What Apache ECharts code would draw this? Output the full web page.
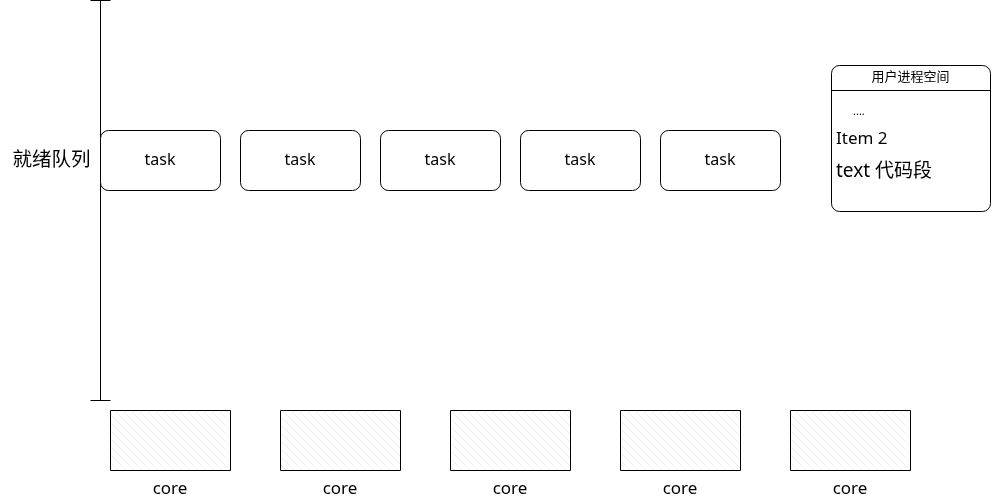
<!DOCTYPE html>
<html>
<head>
<meta charset="utf-8">
<script src="https://cdn.jsdelivr.net/npm/echarts@6/dist/echarts.min.js"></script>
<style>
  html, body { margin: 0; padding: 0; background: #fff; }
  #main { width: 993px; height: 502px; }
</style>
</head>
<body>
<div id="main"></div>
<script>
// diagram content
const queueLabel = '就绪队列'
const taskLabels = ['task', 'task', 'task', 'task', 'task']
const coreLabels = ['core', 'core', 'core', 'core', 'core']
const spaceTitle = '用户进程空间'
const spaceRows = ['....', 'Item 2', 'text 代码段']

// layout (pixel units of the 993x502 canvas)
const W = 993, H = 502
const FONT = '"Noto Sans", "Noto Sans CJK SC", sans-serif'
const taskBox = { x0: 100, step: 140, top: 130, w: 120, h: 60 }
const coreBox = { x0: 110, step: 170, top: 410, w: 120, h: 60, labelY: 489 }
const queueLine = { x: 100, top: 0, bottom: 400, cap: 10 }
const spaceBox = { x: 831, y: 65, w: 159, h: 146, header: 25 }
const spaceRowPos = [[853, 112, 11], [836, 139, 17], [836, 172, 19]]

const myChart = echarts.init(document.getElementById('main'))

// hatched fill for the core boxes
const hatch = document.createElement('canvas')
hatch.width = 8
hatch.height = 8
const hctx = hatch.getContext('2d')
hctx.fillStyle = '#fff'
hctx.fillRect(0, 0, 8, 8)
hctx.strokeStyle = '#ececec'
hctx.lineWidth = 1
hctx.beginPath()
hctx.moveTo(0, 0); hctx.lineTo(8, 8)
hctx.moveTo(-4, 4); hctx.lineTo(4, 12)
hctx.moveTo(4, -4); hctx.lineTo(12, 4)
hctx.stroke()

function taskItem(params, api) {
    const i = api.value(0)
    const p = api.coord([taskBox.x0 + i * taskBox.step, taskBox.top])
    const s = api.size([taskBox.w, taskBox.h])
    return {
        type: 'group',
        children: [
            { type: 'rect', shape: { x: p[0] + 0.5, y: p[1] + 0.5, width: s[0], height: s[1], r: 8 },
              style: { fill: '#fff', stroke: '#000', lineWidth: 1 } },
            { type: 'text', style: { text: taskLabels[i], x: p[0] + s[0] / 2, y: p[1] + s[1] / 2,
              align: 'center', verticalAlign: 'middle', font: '16px ' + FONT, fill: '#000' } }
        ]
    }
}

function coreItem(params, api) {
    const i = api.value(0)
    const p = api.coord([coreBox.x0 + i * coreBox.step, coreBox.top])
    const s = api.size([coreBox.w, coreBox.h])
    const ly = api.coord([0, coreBox.labelY])[1]
    return {
        type: 'group',
        children: [
            { type: 'rect', shape: { x: p[0] + 0.5, y: p[1] + 0.5, width: s[0], height: s[1] },
              style: { fill: { image: hatch, repeat: 'repeat' }, stroke: '#000', lineWidth: 1 } },
            { type: 'text', style: { text: coreLabels[i], x: p[0] + s[0] / 2, y: ly,
              align: 'center', verticalAlign: 'middle', font: '17px ' + FONT, fill: '#000' } }
        ]
    }
}

function queueItem(params, api) {
    const top = api.coord([queueLine.x, queueLine.top])
    const bot = api.coord([queueLine.x, queueLine.bottom])
    const c = api.size([queueLine.cap, 0])[0]
    const x = top[0] + 0.5
    return {
        type: 'group',
        children: [
            { type: 'line', shape: { x1: x, y1: top[1], x2: x, y2: bot[1] }, style: { stroke: '#000', lineWidth: 1 } },
            { type: 'line', shape: { x1: x - c, y1: top[1] + 0.5, x2: x + c, y2: top[1] + 0.5 }, style: { stroke: '#000', lineWidth: 1 } },
            { type: 'line', shape: { x1: x - c, y1: bot[1] + 0.5, x2: x + c, y2: bot[1] + 0.5 }, style: { stroke: '#000', lineWidth: 1 } },
            { type: 'text', style: { text: queueLabel, x: x - 10, y: api.coord([0, 160])[1],
              align: 'right', verticalAlign: 'middle', font: '19.5px ' + FONT, fill: '#000' } }
        ]
    }
}

function spaceItem(params, api) {
    const p = api.coord([spaceBox.x, spaceBox.y])
    const s = api.size([spaceBox.w, spaceBox.h])
    const hy = api.coord([0, spaceBox.y + spaceBox.header])[1]
    const children = [
        { type: 'rect', shape: { x: p[0] + 0.5, y: p[1] + 0.5, width: s[0], height: s[1], r: 8 },
          style: { fill: '#fff', stroke: '#000', lineWidth: 1 } },
        { type: 'line', shape: { x1: p[0], y1: hy + 0.5, x2: p[0] + s[0], y2: hy + 0.5 }, style: { stroke: '#000', lineWidth: 1 } },
        { type: 'text', style: { text: spaceTitle, x: p[0] + s[0] / 2, y: (p[1] + hy) / 2,
          align: 'center', verticalAlign: 'middle', font: '13px ' + FONT, fill: '#000' } }
    ]
    spaceRows.forEach(function (row, k) {
        const q = api.coord([spaceRowPos[k][0], spaceRowPos[k][1]])
        children.push({ type: 'text', style: { text: row, x: q[0], y: q[1], align: 'left',
            verticalAlign: 'middle', font: spaceRowPos[k][2] + 'px ' + FONT, fill: '#000' } })
    })
    return { type: 'group', children: children }
}

const option = {
    animation: false,
    backgroundColor: '#fff',
    grid: { left: 0, right: 0, top: 0, bottom: 0 },
    xAxis: { type: 'value', min: 0, max: W, show: false },
    yAxis: { type: 'value', min: 0, max: H, inverse: true, show: false },
    series: [
        { type: 'custom', renderItem: queueItem, data: [[0]] },
        { type: 'custom', renderItem: taskItem, data: taskLabels.map(function (t, i) { return [i] }) },
        { type: 'custom', renderItem: coreItem, data: coreLabels.map(function (t, i) { return [i] }) },
        { type: 'custom', renderItem: spaceItem, data: [[0]] }
    ]
}
myChart.setOption(option)
</script>
</body>
</html>
